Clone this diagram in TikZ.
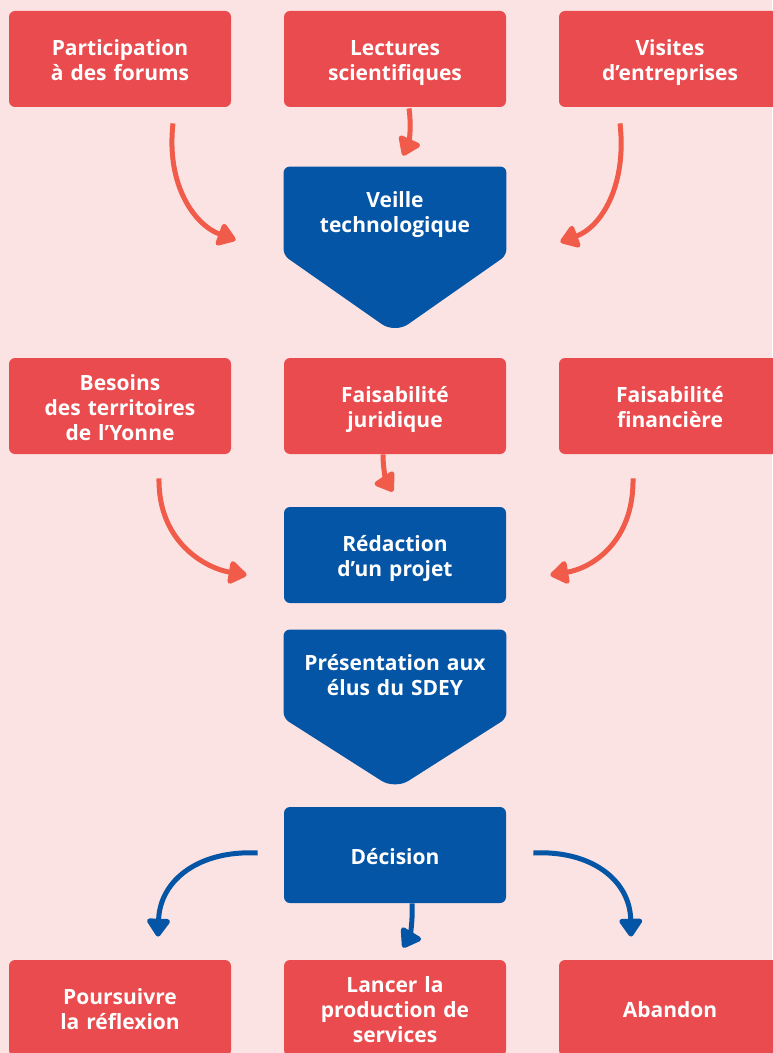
\documentclass[tikz,border=0pt]{standalone}
\usepackage{fontspec}
\setmainfont{Open Sans}
\usetikzlibrary{arrows.meta}
\usetikzlibrary{backgrounds}
\definecolor{bgpink}{HTML}{FCE3E3}
\definecolor{boxred}{HTML}{E94B4E}
\definecolor{sdeyblue}{HTML}{0455A5}
\definecolor{arrowred}{HTML}{F05B4A}

\begin{document}
\begin{tikzpicture}[x=0.5pt,y=-0.5pt,
  boxtext/.style={text=white,align=center,text width=100pt,font=\fontsize{10.5}{12.5}\selectfont\bfseries,
    execute at begin node=\rule{0pt}{12pt},execute at end node=\rule[-3pt]{0pt}{3pt}},
  redbox/.style={boxtext,fill=boxred,rounded corners=3pt,minimum width=111pt,minimum height=48pt},
  bluebox/.style={redbox,fill=sdeyblue},
  bluetop/.style={boxtext,minimum width=111pt,minimum height=44pt},
  redarrow/.style={draw=arrowred,line width=2.5pt,-{Triangle[length=10pt,width=13pt,round]}},
  bluearrow/.style={redarrow,draw=sdeyblue}]
\useasboundingbox (0,0) rectangle (772,1053);
\begin{scope}[on background layer]
\fill[bgpink] (0,0) rectangle (772,1053);
\end{scope}

% first row
\node[redbox] (forums) at (120,59) {Participation\\à des forums};
\node[redbox] (lectures) at (395,59) {Lectures\\scientifiques};
\node[redbox] (visites) at (670,59) {Visites\\d’entreprises};

\node[bluetop] (veille) at (395,211) {Veille\\technologique};

\draw[redarrow] ([shift={(53,16)}]forums.south) .. controls +(-7,62) and +(-41,-15) .. ([shift={(-48,29)}]veille.west);
\draw[redarrow] ([shift={(14,1)}]lectures.south) .. controls +(3,22) and +(5,-11) .. ([shift={(8,-11)}]veille.north);
\draw[redarrow] ([shift={(-50,16)}]visites.south) .. controls +(7,62) and +(41,-15) .. ([shift={(54,31)}]veille.east);

% second row
\node[redbox] (besoins) at (120,406) {Besoins\\des territoires\\de l’Yonne};
\node[redbox] (juridique) at (395,406) {Faisabilité\\juridique};
\node[redbox] (financiere) at (670,406) {Faisabilité\\financière};

\node[bluebox] (redaction) at (395,555) {Rédaction\\d’un projet};

\draw[redarrow] ([shift={(39,24)}]besoins.south) .. controls +(-1,63) and +(-42,-7) .. ([shift={(-37,20)}]redaction.west);
\draw[redarrow] ([shift={(-12,0)}]juridique.south) .. controls +(0,17) and +(-6,-9) .. ([shift={(-2,-15)}]redaction.north);
\draw[redarrow] ([shift={(-37,24)}]financiere.south) .. controls +(1,63) and +(42,-7) .. ([shift={(44,20)}]redaction.east);

\node[bluetop] (presentation) at (395,674) {Présentation aux\\élus du SDEY};

\begin{scope}[on background layer]
\fill[sdeyblue,rounded corners=3pt] (veille.north west) -- (veille.south west) [rounded corners=8pt] -- ([shift={(0,78)}]veille.south) [rounded corners=3pt] -- (veille.south east) -- (veille.north east) -- cycle;
\fill[sdeyblue,rounded corners=3pt] (presentation.north west) -- (presentation.south west) [rounded corners=8pt] -- ([shift={(0,71)}]presentation.south) [rounded corners=3pt] -- (presentation.south east) -- (presentation.north east) -- cycle;
\end{scope}

% decision
\node[bluebox] (decision) at (395,855) {Décision};

\node[redbox] (poursuivre) at (120,1008) {Poursuivre\\la réflexion};
\node[redbox] (lancer) at (395,1008) {Lancer la\\production de\\services};
\node[redbox] (abandon) at (670,1008) {Abandon};

\draw[bluearrow] ([shift={(-26,-2)}]decision.west) .. controls +(-58,-3) and +(2,-57) .. ([shift={(38,-23)}]poursuivre.north);
\draw[bluearrow] ([shift={(17,0)}]decision.south) .. controls +(1,22) and +(6,-10) .. ([shift={(8,-12)}]lancer.north);
\draw[bluearrow] ([shift={(27,-2)}]decision.east) .. controls +(57,-3) and +(-1,-57) .. ([shift={(-39,-23)}]abandon.north);

\end{tikzpicture}
\end{document}
